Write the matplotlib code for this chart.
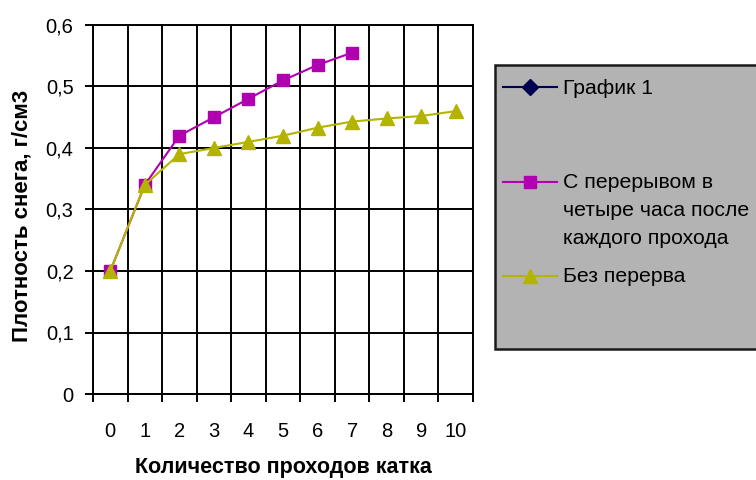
import matplotlib
matplotlib.use("Agg")
import matplotlib.pyplot as plt
from matplotlib.lines import Line2D
from matplotlib.patches import Rectangle

plt.rcParams['font.family'] = ['Liberation Sans', 'DejaVu Sans']

passes = list(range(11))
grafik1 = []
s_pereryvom = [0.20, 0.34, 0.42, 0.45, 0.48, 0.51, 0.535, 0.555]
bez_pereryva = [0.20, 0.34, 0.39, 0.40, 0.41, 0.42, 0.433, 0.443, 0.448, 0.452, 0.46]
y_ticks = [0, 0.1, 0.2, 0.3, 0.4, 0.5, 0.6]
y_labels = ["0", "0,1", "0,2", "0,3", "0,4", "0,5", "0,6"]

names = ["График 1", "С перерывом в\nчетыре часа после\nкаждого прохода", "Без перерва"]
colors = ["#000050", "#b000b0", "#b4b400"]
markers = ["D", "s", "^"]

W, H = 756, 480
fig = plt.figure(figsize=(W / 100, H / 100), dpi=100)
ax = fig.add_axes([93 / W, 1 - 394 / H, (473 - 93) / W, (394 - 25) / H])

ax.plot(passes[:len(grafik1)], grafik1, color=colors[0], marker=markers[0], lw=1.5)
ax.plot(passes[:len(s_pereryvom)], s_pereryvom, color=colors[1], marker=markers[1],
        ms=9, lw=1.5, zorder=3)
ax.plot(passes, bez_pereryva, color=colors[2], marker=markers[2], ms=10.5, lw=1.5, zorder=4)

ax.set_xlim(-0.5, 10.5)
ax.set_ylim(0, 0.6)

# category boundaries carry the ticks and gridlines, labels sit in the middle
ax.set_xticks([p - 0.5 for p in passes] + [passes[-1] + 0.5])
ax.set_xticklabels([])
ax.set_xticks(passes, minor=True)
ax.set_xticklabels([str(p) for p in passes], minor=True, fontsize=14.5)
ax.tick_params(axis='x', which='major', length=6, width=1.4, direction='out')
ax.tick_params(axis='x', which='minor', length=0, pad=20)
ax.set_yticks(y_ticks)
ax.set_yticklabels(y_labels, fontsize=14.5)
ax.tick_params(axis='y', length=6, width=1.4, pad=8)

ax.grid(True, which='major', color='black', lw=1.4)
ax.set_axisbelow(True)
for sp in ax.spines.values():
    sp.set_color('black')
    sp.set_linewidth(1.4)

ax.set_xlabel("Количество проходов катка", fontsize=15.5, fontweight='bold', labelpad=12)
fig.text(22 / W, 1 - 216 / H, "Плотность снега, г/см3", rotation=90, fontsize=16,
         fontweight='bold', ha='center', va='center')

# legend box, running past the right edge
fig.patches.append(Rectangle((495 / W, 1 - 349 / H), 300 / W, (349 - 65) / H,
                             transform=fig.transFigure, facecolor='#b3b3b3',
                             edgecolor='#1a1a1a', lw=1.8))
entry_y = [87, 182, 276]
text_y = [88, 211, 277]
msizes = [8, 8, 10]
for name, c, m, ms, ly, ty in zip(names, colors, markers, msizes, entry_y, text_y):
    fig.lines.append(Line2D([503 / W, 557 / W], [1 - ly / H] * 2, transform=fig.transFigure,
                            color=c, lw=1.5, zorder=5))
    fig.lines.append(Line2D([530 / W], [1 - ly / H], transform=fig.transFigure,
                            color=c, marker=m, ms=ms, lw=0, zorder=6))
    fig.text(563 / W, 1 - ty / H, name, fontsize=15.3, ha='left', va='center',
             linespacing=1.6)

fig.savefig("out.png", dpi=100)
